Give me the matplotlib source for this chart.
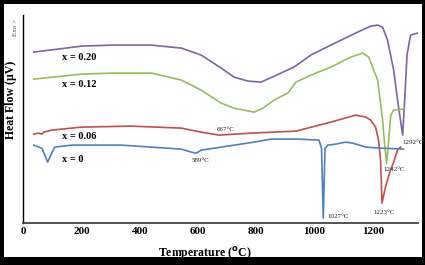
import matplotlib
matplotlib.use('Agg')
import matplotlib.pyplot as plt
from matplotlib.patches import Rectangle

# DSC traces, temperature (C) vs heat flow (arb. units)
t_020 = [34, 199, 302, 439, 542, 610, 679, 723, 771, 816, 884, 929, 987, 1056, 1148, 1193, 1217,
         1234, 1251, 1272, 1288, 1298, 1303, 1310, 1318, 1330, 1354]
hf_020 = [171, 177, 178, 178, 175, 168, 155, 146, 142, 141, 150, 156, 168, 178, 191, 197, 198,
          196, 183, 153, 118, 98, 88, 123, 168, 188, 190]

t_012 = [34, 199, 302, 439, 542, 610, 679, 723, 792, 823, 860, 908, 936, 987, 1056, 1124, 1166, 1186, 1217,
         1227, 1234, 1241, 1248, 1255, 1262, 1272, 1306]
hf_012 = [144, 149, 150, 150, 143, 133, 120, 115, 111, 115, 123, 130, 141, 148, 156, 166, 170, 166, 143,
          120, 103, 78, 60, 83, 108, 113, 114]

t_006 = [34, 51, 62, 69, 96, 199, 370, 542, 610, 672, 782, 936, 1056, 1141, 1176, 1193, 1210, 1220, 1227,
         1232, 1244, 1261, 1272, 1285, 1296]
hf_006 = [89, 90, 89, 91, 93, 96, 97, 95, 91, 88, 90, 92, 101, 108, 106, 103, 96, 83, 63,
          20, 36, 53, 61, 73, 76]

t_000 = [34, 62, 82, 96, 106, 165, 336, 542, 576, 593, 610, 679, 792, 850, 943, 1015, 1024, 1030, 1036,
         1046, 1073, 1107, 1131, 1176, 1227, 1306]
hf_000 = [78, 75, 61, 70, 76, 78, 78, 74, 71, 70, 73, 76, 81, 84, 84, 83, 75, 5, 75,
          78, 79, 81, 80, 76, 75, 74]

curve_labels = ['x = 0.20', 'x = 0.12', 'x = 0.06', 'x = 0']
peak_labels = ['667\u00b0C', '589\u00b0C', '1027\u00b0C', '1223\u00b0C', '1242\u00b0C', '1292\u00b0C']
xticks = [0, 200, 400, 600, 800, 1000, 1200]

serif = 'Liberation Serif'

fig = plt.figure(figsize=(4.25, 2.65), dpi=100)
ax = fig.add_axes([0.054, 0.158, 0.929, 0.785])

ax.plot(t_020, hf_020, color='#8064A2', lw=1.2)
ax.plot(t_012, hf_012, color='#9BBB59', lw=1.2)
ax.plot(t_006, hf_006, color='#C0504D', lw=1.2)
ax.plot(t_000, hf_000, color='#4F81BD', lw=1.2)

ax.set_xlim(-3, 1355)
ax.set_ylim(0, 208)
ax.set_yticks([])
ax.set_xticks(xticks)
ax.set_xticklabels([str(v) for v in xticks], family=serif, fontweight='bold', fontsize=8)
ax.tick_params(axis='x', length=0, pad=3)
for s in ['top', 'right']:
    ax.spines[s].set_visible(False)
ax.spines['bottom'].set_color('#444444')
ax.spines['bottom'].set_linewidth(1.3)
ax.spines['left'].set_linewidth(1.0)

# curve names
lab_pos = [(130, 166), (130, 139), (130, 87), (130, 64)]
for txt, (x, y) in zip(curve_labels, lab_pos):
    ax.text(x, y, txt, family=serif, fontweight='bold', fontsize=7.5, va='center')

# peak temperatures
peak_pos = [(663, 94), (578, 63), (1046, 7), (1203, 11), (1237, 54), (1302, 81)]
for txt, (x, y) in zip(peak_labels, peak_pos):
    ax.text(x, y, txt, family=serif, fontsize=5, va='center', color='#222222')

fig.text(205 / 425, 1 - 253 / 265, 'Temperature ($^{\\mathbf{o}}$C)', family=serif, fontweight='bold',
         fontsize=8.5, ha='center', va='center')
fig.text(11 / 425, 1 - 100 / 265, 'Heat Flow (\u00b5V)', rotation=90, family=serif, fontweight='bold',
         fontsize=8.5, ha='center', va='center')
fig.text(16 / 425, 1 - 27 / 265, 'Exo >', rotation=90, family=serif, fontsize=5,
         ha='center', va='center', color='#444444')

# black frame round the picture, thicker at the bottom
fig.patches.append(Rectangle((0, 0), 1, 1, transform=fig.transFigure, fill=False,
                             edgecolor='black', lw=5, clip_on=True))
fig.patches.append(Rectangle((0, 0), 1, 8 / 265, transform=fig.transFigure, facecolor='black',
                             edgecolor='none'))

fig.savefig('out.png', dpi=100)
